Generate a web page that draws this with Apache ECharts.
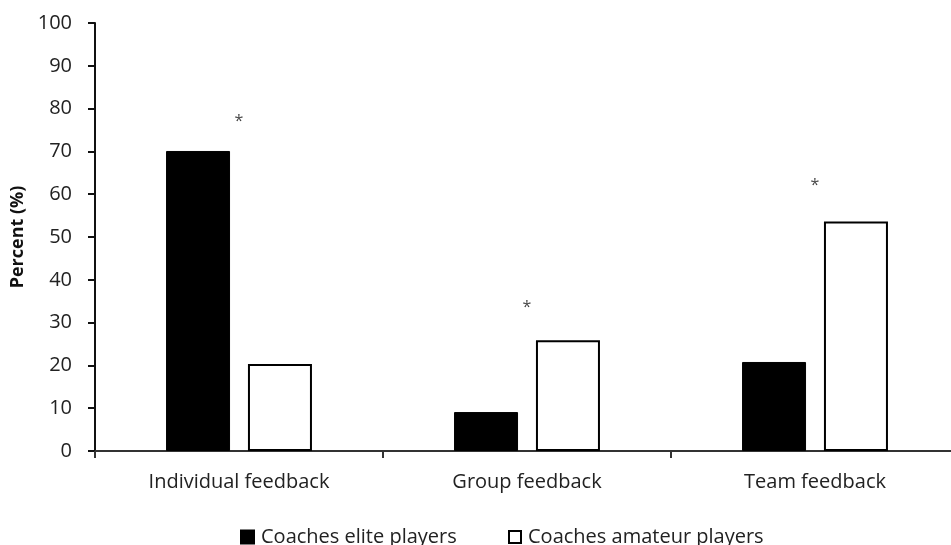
<!DOCTYPE html>
<html>
<head>
<meta charset="utf-8">
<script src="https://cdn.jsdelivr.net/npm/echarts@6/dist/echarts.min.js"></script>
<style>html,body{margin:0;padding:0;background:#fff}#c{width:951px;height:545px}</style>
</head>
<body>
<div id="c"></div>
<script>
const categories = ['Individual feedback', 'Group feedback', 'Team feedback'];
const eliteValues = [70.1, 9.1, 20.8];
const amateurValues = [20.3, 25.9, 53.6];
const asteriskValues = [76.9, 33.6, 62.1];
const seriesNames = ['Coaches elite players', 'Coaches amateur players'];
const yTicks = [0, 10, 20, 30, 40, 50, 60, 70, 80, 90, 100];

const FONT = '"Open Sans", "Noto Sans", sans-serif';
const legendText = {fontFamily: FONT, fontSize: 20, color: '#222', lineHeight: 16, padding: [0,0,0,2]};
const chart = echarts.init(document.getElementById('c'), null, {renderer: 'canvas'});
chart.setOption({
  animation: false,
  backgroundColor: '#ffffff',
  grid: {left: 95, width: 864, top: 23, bottom: 94, containLabel: false, outerBoundsMode: 'none'},
  legend: [
    {data: [{name: seriesNames[0], icon: 'rect'}], padding: 0,
     left: 240, top: 527, itemWidth: 13, itemHeight: 13, textStyle: legendText},
    {data: [{name: seriesNames[1], icon: 'rect', itemStyle: {color: '#fff', borderColor: '#000', borderWidth: 2}}], padding: 0,
     left: 508, top: 527, itemWidth: 12, itemHeight: 12, textStyle: legendText}
  ],
  xAxis: {
    type: 'category', data: categories,
    axisLine: {lineStyle: {color: '#333', width: 2}},
    axisTick: {show: true, alignWithLabel: false, length: 7, lineStyle: {color: '#333', width: 2}},
    axisLabel: {fontFamily: FONT, fontSize: 20, color: '#222', margin: 21}
  },
  yAxis: {
    type: 'value', min: yTicks[0], max: yTicks[yTicks.length-1], interval: 10,
    name: 'Percent (%)', nameLocation: 'middle', nameGap: 54, nameRotate: 90,
    nameTextStyle: {fontFamily: FONT, fontSize: 18, fontWeight: 'bold', color: '#111'},
    axisLine: {show: true, lineStyle: {color: '#111', width: 2}},
    axisTick: {show: true, length: 7, lineStyle: {color: '#111', width: 2}},
    axisLabel: {fontFamily: FONT, fontSize: 20, color: '#222', margin: 23},
    splitLine: {show: false}
  },
  series: [
    {name: seriesNames[0], type: 'bar', data: eliteValues, barWidth: 64, barGap: '28%',
     itemStyle: {color: '#000', borderColor: '#000', borderWidth: 1}},
    {name: seriesNames[1], type: 'bar', data: amateurValues, barWidth: 64,
     itemStyle: {color: '#fff', borderColor: '#000', borderWidth: 2}},
    {name: 'sig', type: 'scatter', data: asteriskValues, symbolSize: 0.1, silent: true,
     label: {show: true, position: 'inside', formatter: '*', fontFamily: FONT, fontSize: 16, color: '#111'}}
  ]
});
</script>
</body>
</html>
